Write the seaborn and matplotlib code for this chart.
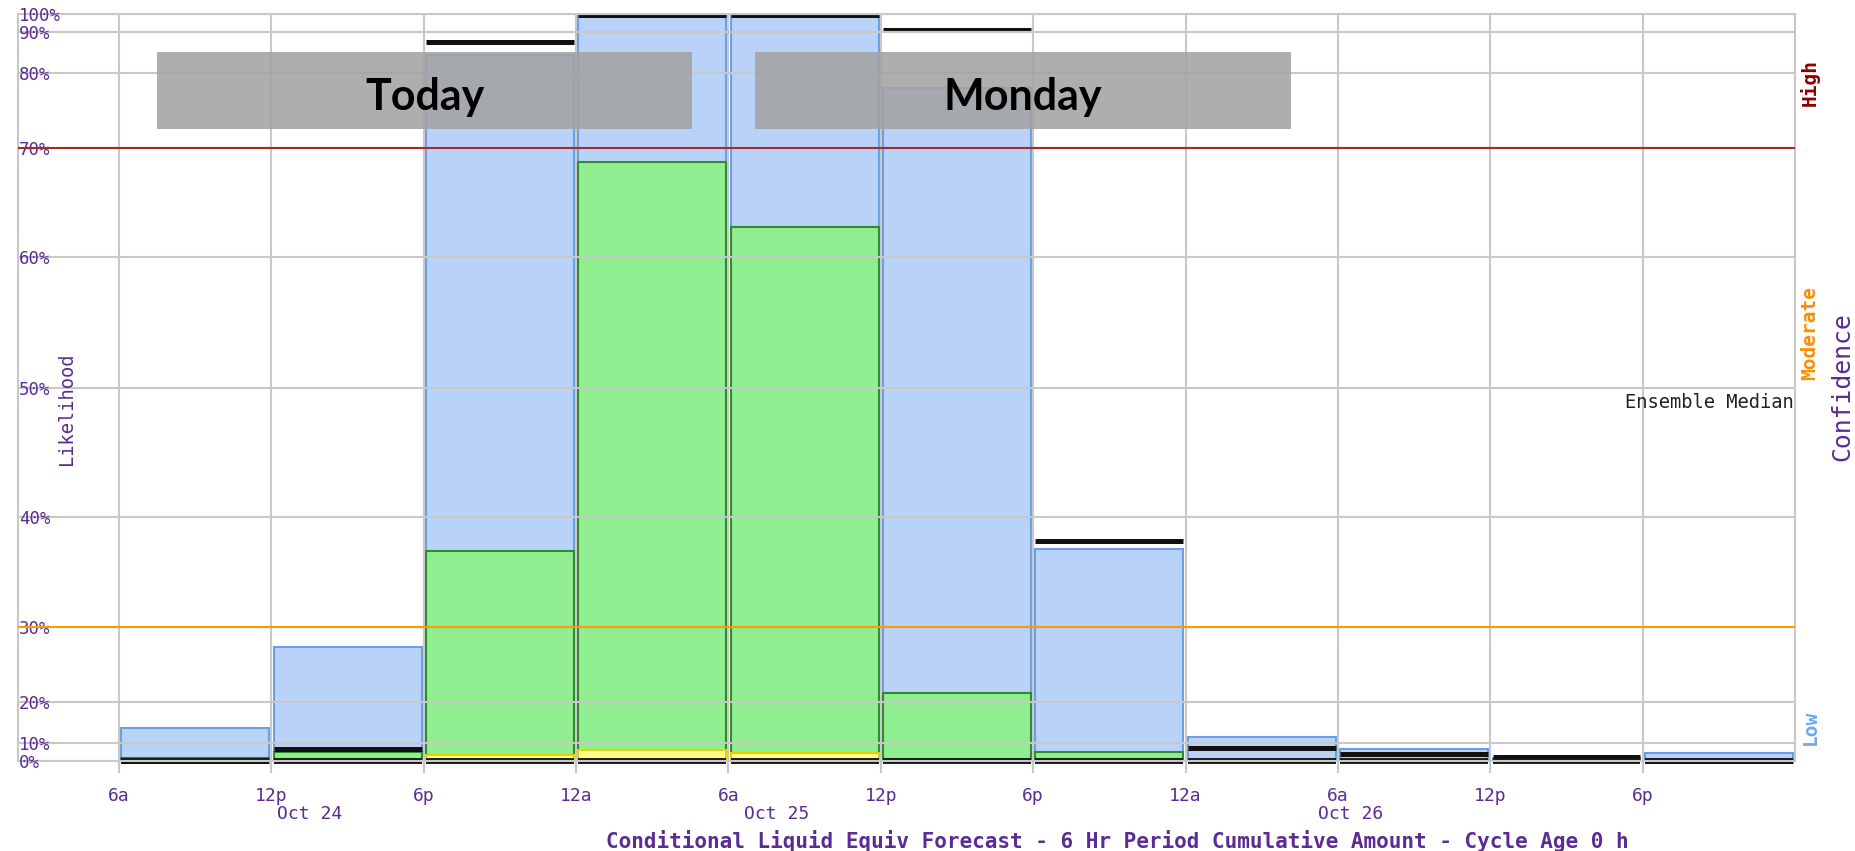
import numpy as np
import pandas as pd
import seaborn as sns
import matplotlib.pyplot as plt
from matplotlib.patches import Rectangle

# 6 hr periods, start hour counted from 12a Oct 24
period_start = [6, 12, 18, 24, 30, 36, 42, 48, 54, 60, 66]
blue_pct = [13.5, 27.3, 84.5, 100.0, 100.0, 78.0, 37.1, 11.3, 6.4, 1.5, 4.5]
green_pct = [1.8, 5.0, 36.9, 68.7, 62.8, 21.1, 5.1, 0.0, 0.0, 0.0, 0.0]
yellow_pct = [0.0, 0.0, 3.3, 6.2, 4.2, 0.0, 0.0, 0.0, 0.0, 0.0, 0.0]
median_pct = [0.0, 6.4, 87.6, 99.6, 99.6, 91.0, 37.8, 7.2, 4.0, 2.0, 0.0]
base_pct = [0.0, 0.0, 0.0, 0.0, 0.0, 0.0, 0.0, 0.0, 0.0, 0.0, 0.0]

x_tick_hours = [6, 12, 18, 24, 30, 36, 42, 48, 54, 60, 66]
x_tick_labels = ['6a', '12p', '6p', '12a', '6a', '12p', '6p', '12a', '6a', '12p', '6p']
date_labels = ['Oct 24', 'Oct 25', 'Oct 26']
date_label_hours = [13.5, 31.9, 54.5]

y_ticks = [0, 10, 20, 30, 40, 50, 60, 70, 80, 90, 100]
y_tick_labels = ['0%', '10%', '20%', '30%', '40%', '50%', '60%', '70%', '80%', '90%', '100%']
# the likelihood axis is not linear: pixel height of each tick above the 0% line
y_tick_px = [0, 18.3, 59.3, 134.5, 243.7, 372.7, 503.7, 612.7, 687.7, 728.7, 747.0]

conf_labels = ['High', 'Moderate', 'Low']
conf_colors = ['#8b0000', '#ff8c00', '#6fa8f0']
day_labels = ['Today', 'Monday']

FW, FH = 1855, 851
PURPLE = '#5b2c91'
GRID = '#c8c8c8'


def fy(y):
    # reference pixel row (from top) -> figure fraction
    return 1 - y / FH


sns.set_style('white')
plt.rcParams['font.family'] = ['DejaVu Sans Mono', 'DejaVu Sans']

df = pd.DataFrame({'start': period_start, 'blue': blue_pct, 'green': green_pct,
                   'yellow': yellow_pct, 'median': median_pct, 'base': base_pct})
df['mid'] = df['start'] + 3

fig = plt.figure(figsize=(FW / 100, FH / 100), dpi=100)
ax = fig.add_axes([17.5 / FW, fy(761), (1795 - 17.5) / FW, (761 - 14) / FH])

scale_vals = np.array([-10] + y_ticks + [110], dtype=float)
scale_px = np.array([-18.3] + y_tick_px + [765.3])
ax.set_yscale('function', functions=(lambda v: np.interp(v, scale_vals, scale_px),
                                     lambda p: np.interp(p, scale_px, scale_vals)))

bar_kw = dict(data=df, x='mid', native_scale=True, width=0.97, saturation=1,
              errorbar=None, linewidth=1.5, ax=ax)
sns.barplot(y='blue', color='#b8d3f7', edgecolor='#6a9fe6', **bar_kw)
sns.barplot(y='green', color='#90ee90', edgecolor='#2e8b2e', **bar_kw)
sns.barplot(y='yellow', color='#ffff88', edgecolor='#e8d000', **bar_kw)

ax.hlines(df['median'], df['start'] + 0.09, df['start'] + 5.91, color='#111111', lw=3.6, zorder=2, clip_on=False)
ax.hlines(df['base'], df['start'] + 0.09, df['start'] + 5.91, color='#111111', lw=4.2, zorder=2, clip_on=False)

ax.axhline(70, color='#a52a2a', lw=1.5, zorder=3)
ax.axhline(30, color='#ff9900', lw=1.5, zorder=3)

ax.set_xlim(2, 72)
ax.set_ylim(0, 100)
ax.set_xticks(x_tick_hours, x_tick_labels)
ax.set_yticks(y_ticks, y_tick_labels)
ax.set_xlabel('')
ax.set_ylabel('')
ax.set_axisbelow(False)
ax.grid(True, color=GRID, lw=1.5)
for s in ax.spines.values():
    s.set_color(GRID)
    s.set_linewidth(1.5)
ax.tick_params(axis='x', bottom=True, direction='out', length=8.6, width=1.5, color=GRID,
               labelcolor=PURPLE, labelsize=13, pad=10)
ax.tick_params(axis='y', left=False, length=0, pad=-1, labelcolor=PURPLE, labelsize=12.5)
for lab in ax.get_yticklabels():
    lab.set_ha('left')

for h, lab in zip(date_label_hours, date_labels):
    ax.text(h, -(814 - 761) / 747, lab, transform=ax.get_xaxis_transform(),
            ha='center', va='center', fontsize=13, color=PURPLE)

fig.text(1117 / FW, fy(841), 'Conditional Liquid Equiv Forecast - 6 Hr Period Cumulative Amount - Cycle Age 0 h',
         ha='center', va='center', fontsize=15.1, weight='bold', color=PURPLE)
fig.text(67 / FW, fy(409), 'Likelihood', rotation=90, ha='center', va='center', fontsize=13.5, color=PURPLE)
fig.text(1794 / FW, fy(402), 'Ensemble Median', ha='right', va='center', fontsize=13.5, color='#222222')
fig.text(1854 / FW, fy(387), 'Confidence', rotation=90, ha='right', va='center', fontsize=17.8, color=PURPLE)

for lab, col, y in zip(conf_labels, conf_colors, [82.5, 333, 727]):
    fig.text(1810 / FW, fy(y), lab, rotation=90, ha='center', va='center',
             fontsize=14, weight='bold', color=col)

# day banners laid over the chart
for lab, (x0, x1) in zip(day_labels, [(157, 692), (755, 1291)]):
    fig.add_artist(Rectangle((x0 / FW, fy(129)), (x1 - x0) / FW, 77 / FH, transform=fig.transFigure,
                             facecolor='#a3a3a3', alpha=0.88, edgecolor='none', zorder=5))
    fig.text((x0 + x1) / 2 / FW, fy(97), lab, family='Lato', weight='bold', fontsize=31,
             ha='center', va='center', color='black', zorder=6)

fig.savefig('out.png', dpi=100)
